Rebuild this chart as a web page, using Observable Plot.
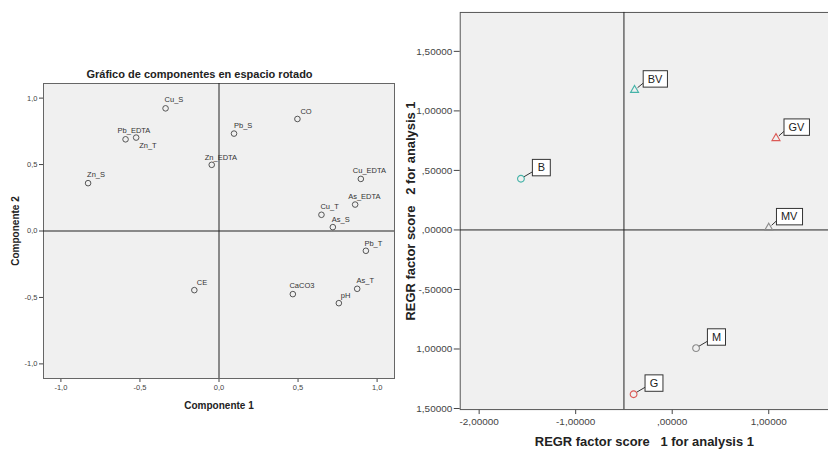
<!DOCTYPE html>
<html>
<head>
<meta charset="utf-8">
<script src="https://cdn.jsdelivr.net/npm/d3@7"></script>
<script src="https://cdn.jsdelivr.net/npm/@observablehq/plot@0.6"></script>
<style>
  html, body { margin: 0; padding: 0; background: #fff; width: 828px; height: 452px; overflow: hidden; }
  #left { position: absolute; left: 0; top: 0; }
  #right { position: absolute; left: 400px; top: 0; }
  svg text { white-space: pre; }
</style>
</head>
<body>
<div id="left"></div>
<div id="right"></div>
<script>
// ---- Component loadings in rotated space ----
const variables = ["Cu_S", "Pb_EDTA", "Zn_T", "Zn_S", "CO", "Pb_S", "Zn_EDTA", "Cu_EDTA",
                   "As_EDTA", "Cu_T", "As_S", "Pb_T", "CE", "CaCO3", "As_T", "pH"];
const component1 = [-0.338, -0.591, -0.524, -0.828, 0.496, 0.095, -0.046, 0.897,
                    0.861, 0.648, 0.720, 0.929, -0.156, 0.467, 0.874, 0.758];
const component2 = [0.923, 0.690, 0.703, 0.360, 0.843, 0.733, 0.498, 0.392,
                    0.199, 0.122, 0.029, -0.149, -0.445, -0.475, -0.435, -0.543];
const compTicks = [-1, -0.5, 0, 0.5, 1];
const compTickLabels = ["-1,0", "-0,5", "0,0", "0,5", "1,0"];

// ---- Regression factor scores per site ----
const sites = ["B", "BV", "G", "GV", "M", "MV"];
const score1 = [-1.567, -0.390, -0.400, 1.075, 0.247, 1.000];
const score2 = [0.430, 1.175, -1.380, 0.770, -0.993, 0.018];
const siteGroup = ["B", "B", "G", "G", "M", "M"];
const siteShape = ["circle", "triangle", "circle", "triangle", "circle", "triangle"];
const scoreXTicks = [-2, -1, 0, 1];
const scoreXTickLabels = ["-2,00000", "-1,00000", ",00000", "1,00000"];
const scoreYTicks = [-1.5, -1, -0.5, 0, 0.5, 1, 1.5];
const scoreYTickLabels = ["1,50000", "1,00000", "-,50000", ",00000", ",50000", "1,00000", "1,50000"];

// label placement next to each loading point (pixels)
const nudge = {
  Cu_S: [-1, -8.4], Pb_EDTA: [-8, -8.4], Zn_T: [3, 8], Zn_S: [-1, -8.4],
  CO: [3, -7.6], Pb_S: [0, -8], Zn_EDTA: [-7, -7.6], Cu_EDTA: [-8, -8.3],
  As_EDTA: [-7, -8.3], Cu_T: [-1, -8.3], As_S: [-1, -7.4], Pb_T: [-1.5, -7.6],
  CE: [2.5, -7.4], CaCO3: [-3.4, -9], As_T: [-0.7, -8.3], pH: [2, -7.7]
};

const font = "'Liberation Sans', Arial, Helvetica, sans-serif";
const fmt = (ticks, labels) => d => labels[ticks.indexOf(d)];
const idxL = variables.map((_, i) => i);

const left = Plot.plot({
  width: 400,
  height: 452,
  marginLeft: 43,
  marginTop: 83,
  marginRight: 6,
  marginBottom: 74,
  style: { fontFamily: font, fontSize: "7.5px", color: "#444", background: "#fff" },
  x: { domain: [-1.11, 1.11], ticks: compTicks, tickFormat: fmt(compTicks, compTickLabels),
       tickSize: 4, tickPadding: 2, label: null },
  y: { domain: [-1.11, 1.11], ticks: compTicks, tickFormat: fmt(compTicks, compTickLabels),
       tickSize: 4, tickPadding: 2, label: null },
  marks: [
    Plot.frame({ fill: "#f0f0f0", stroke: "#666" }),
    Plot.ruleX([0], { stroke: "#222" }),
    Plot.ruleY([0], { stroke: "#222" }),
    Plot.dot(idxL, { x: i => component1[i], y: i => component2[i], r: 2.8,
                     stroke: "#444", strokeWidth: 0.9 }),
    ...idxL.map(i => Plot.text([i], {
      x: j => component1[j], y: j => component2[j], text: j => variables[j],
      textAnchor: "start", dx: nudge[variables[i]][0], dy: nudge[variables[i]][1],
      fontSize: 7.5, fill: "#333"
    })),
    Plot.text(["Gráfico de componentes en espacio rotado"], {
      frameAnchor: "top", dx: -19.5, dy: -9.5, lineAnchor: "middle", textAnchor: "middle",
      fontSize: 11, fontWeight: "bold", fill: "#222"
    }),
    Plot.text(["Componente 1"], {
      frameAnchor: "bottom", dy: 27, lineAnchor: "middle", textAnchor: "middle",
      fontSize: 10, fontWeight: "bold", fill: "#222"
    }),
    Plot.text(["Componente 2"], {
      frameAnchor: "left", dx: -28, rotate: -90, lineAnchor: "middle", textAnchor: "middle",
      fontSize: 10, fontWeight: "bold", fill: "#222"
    })
  ]
});
document.getElementById("left").appendChild(left);

const idxR = sites.map((_, i) => i);
const LABEL_DX = 20.5, LABEL_DY = -11;

const right = Plot.plot({
  width: 430,
  height: 452,
  marginLeft: 60,
  marginTop: 12,
  marginRight: 0,
  marginBottom: 41,
  style: { fontFamily: font, fontSize: "10px", color: "#444", background: "#fff" },
  x: { domain: [-2.196, 1.619], ticks: scoreXTicks, tickFormat: fmt(scoreXTicks, scoreXTickLabels),
       tickSize: 5, tickPadding: 3, label: null },
  y: { domain: [-1.509, 1.827], ticks: scoreYTicks, tickFormat: fmt(scoreYTicks, scoreYTickLabels),
       tickSize: 6, tickPadding: 2, label: null },
  color: { domain: ["B", "G", "M"], range: ["#45b3a8", "#dc5a56", "#8c8c8c"] },
  symbol: { domain: ["circle", "triangle"], range: [d3.symbolCircle, d3.symbolTriangle] },
  marks: [
    Plot.frame({ fill: "#f0f0f0", stroke: "#555" }),
    Plot.ruleX([-0.5], { stroke: "#222" }),
    Plot.ruleY([0], { stroke: "#222" }),
    Plot.text(idxR, {
      x: i => score1[i], y: i => score2[i], text: i => sites[i],
      dx: LABEL_DX, dy: LABEL_DY, textAnchor: "middle", lineAnchor: "middle",
      fontSize: 11, fill: "#222"
    }),
    Plot.dot(idxR, {
      filter: i => siteShape[i] === "circle",
      x: i => score1[i], y: i => score2[i], symbol: i => siteShape[i],
      stroke: i => siteGroup[i], r: 3.4, strokeWidth: 1.1
    }),
    Plot.dot(idxR, {
      filter: i => siteShape[i] === "triangle",
      x: i => score1[i], y: i => score2[i], symbol: i => siteShape[i],
      stroke: i => siteGroup[i], r: 3, strokeWidth: 1.1
    }),
    Plot.text(["REGR factor score   1 for analysis 1"], {
      frameAnchor: "bottom", dy: 32, lineAnchor: "middle", textAnchor: "middle",
      fontSize: 13, fontWeight: "bold", fill: "#222"
    }),
    Plot.text(["REGR factor score   2 for analysis 1"], {
      frameAnchor: "left", dx: -50, rotate: -90, lineAnchor: "middle", textAnchor: "middle",
      fontSize: 13, fontWeight: "bold", fill: "#222"
    })
  ]
});
document.getElementById("right").appendChild(right);

// Boxed site labels with a short leader line back to each marker
const NS = "http://www.w3.org/2000/svg";
Array.from(right.querySelectorAll("text"))
  .filter(t => sites.includes(t.textContent.trim()))
  .forEach(t => {
    const b = t.getBBox();
    const w = Math.max(b.width + 9, 18), h = 16.5;
    const cx = b.x + b.width / 2, cy = b.y + b.height / 2 + 0.3;
    const tr = t.getAttribute("transform");
    const rect = document.createElementNS(NS, "rect");
    rect.setAttribute("x", cx - w / 2);
    rect.setAttribute("y", cy - h / 2);
    rect.setAttribute("width", w);
    rect.setAttribute("height", h);
    rect.setAttribute("fill", "#fff");
    rect.setAttribute("stroke", "#333");
    rect.setAttribute("stroke-width", "1");
    if (tr) rect.setAttribute("transform", tr);
    t.parentNode.insertBefore(rect, t);
    const px = cx - LABEL_DX, py = cy - LABEL_DY;
    const ex = cx - w / 2, ey = cy + h / 2 - 4;
    const len = Math.hypot(ex - px, ey - py);
    const sx = px + (ex - px) / len * 3.4, sy = py + (ey - py) / len * 3.4;
    const line = document.createElementNS(NS, "line");
    line.setAttribute("x1", sx);
    line.setAttribute("y1", sy);
    line.setAttribute("x2", ex);
    line.setAttribute("y2", ey);
    line.setAttribute("stroke", "#333");
    line.setAttribute("stroke-width", "1");
    if (tr) line.setAttribute("transform", tr);
    t.parentNode.insertBefore(line, rect);
  });
</script>
</body>
</html>
